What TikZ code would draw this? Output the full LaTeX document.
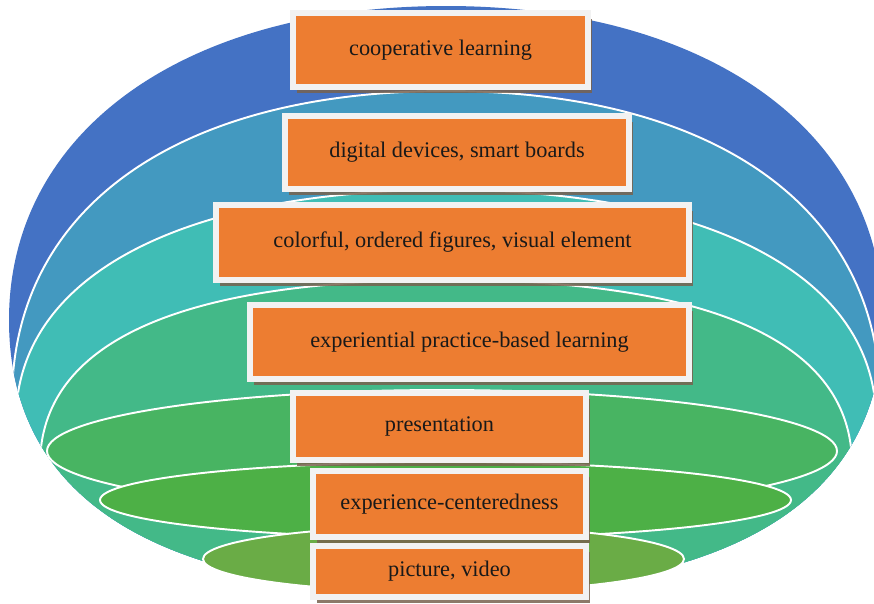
\documentclass[tikz,border=0pt]{standalone}
\usepackage{fontspec}
\setmainfont{Liberation Serif}
\usetikzlibrary{shadows}

\definecolor{ringblue}{RGB}{68,114,196}
\definecolor{ringsteel}{RGB}{67,153,192}
\definecolor{ringteal}{RGB}{64,189,181}
\definecolor{ringsea}{RGB}{67,185,136}
\definecolor{ringgreen}{RGB}{72,180,98}
\definecolor{ringleaf}{RGB}{77,176,70}
\definecolor{ringolive}{RGB}{106,172,70}
\definecolor{tagorange}{RGB}{237,125,49}
\definecolor{tagrim}{RGB}{242,242,242}
\definecolor{tagshade}{RGB}{120,98,78}

\newcommand{\px}{0.02cm}

\begin{document}
\begin{tikzpicture}[x=\px, y=-\px,
  seam/.style={draw=white, line width=1.1pt},
  tag/.style={fill=tagorange, draw=tagrim, line width=3.6pt, inner sep=0pt,
    font=\fontsize{12.7}{15}\selectfont, text=black!90,
    drop shadow={shadow xshift=2.4pt, shadow yshift=-3.4pt, fill=tagshade, opacity=.85}}]
\useasboundingbox (0,0) rectangle (874,603);

% the bowl and its bands
\begin{scope}
  \clip (0,0) rectangle (874,603);
  \clip (9,320) .. controls (9,131.6) and (183.8,6) .. (446,6)
    .. controls (708.2,6) and (883,131.6) .. (883,320)
    .. controls (883,499.5) and (734.4,592) .. (446,592)
    .. controls (157.6,592) and (9,499.5) .. (9,320) -- cycle;
  \fill[ringblue] (0,0) rectangle (874,603);
  \foreach \tone/\tipx/\tipy/\crown/\bulge in
      {ringsteel/12/400/91/0.62, ringteal/16/420/190/0.62, ringsea/40/465/280/0.66}{
    \fill[\tone] (\tipx,\tipy) .. controls (\tipx,{\tipy-\bulge*(\tipy-\crown)}) and ({446-\bulge*(446-\tipx)},\crown) .. (446,\crown)
      .. controls ({446+\bulge*(446-\tipx)},\crown) and ({892-\tipx},{\tipy-\bulge*(\tipy-\crown)}) .. ({892-\tipx},\tipy)
      -- ({940-\tipx},700) -- ({\tipx-48},700) -- cycle;
    \draw[seam] (\tipx,\tipy) .. controls (\tipx,{\tipy-\bulge*(\tipy-\crown)}) and ({446-\bulge*(446-\tipx)},\crown) .. (446,\crown)
      .. controls ({446+\bulge*(446-\tipx)},\crown) and ({892-\tipx},{\tipy-\bulge*(\tipy-\crown)}) .. ({892-\tipx},\tipy);
  }
\end{scope}

% inner discs
\foreach \tone/\cx/\cy/\rx/\ry in
    {ringgreen/442/451/395/61, ringleaf/445.5/500/345.5/38, ringolive/443.5/559/240.5/33}
  \filldraw[fill=\tone, seam] (\cx,\cy) ellipse [x radius=\rx, y radius=\ry];

% labels, bottom one first
\node[tag, minimum width=273*\px, minimum height=51*\px] (media) at (449.5,571.5) {picture, video};
\node[tag, minimum width=273*\px, minimum height=66*\px] (centred) at (449.5,504) {experience-centeredness};
\node[tag, minimum width=293*\px, minimum height=67*\px] (present) at (439.5,426.5) {presentation};
\node[tag, minimum width=439*\px, minimum height=74*\px] (practice) at (469.5,342) {experiential practice-based learning};
\node[tag, minimum width=473*\px, minimum height=75*\px] (colorful) at (452.5,242.5) {colorful, ordered figures, visual element};
\node[tag, minimum width=344*\px, minimum height=73*\px] (digital) at (457,152.5) {digital devices, smart boards};
\node[tag, minimum width=295*\px, minimum height=74*\px] (coop) at (440.5,50) {cooperative learning};
\end{tikzpicture}
\end{document}
